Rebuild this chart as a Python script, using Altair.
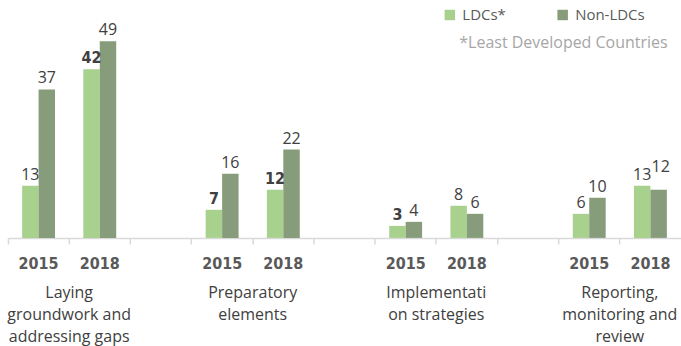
import altair as alt
import pandas as pd

# Chart data
categories = [
    "Laying\ngroundwork and\naddressing gaps",
    "Preparatory\nelements",
    "Implementati\non strategies",
    "Reporting,\nmonitoring and\nreview",
]
years = ["2015", "2018"]
series = ["LDCs*", "Non-LDCs"]
ldc_values = [13, 42, 7, 12, 3, 8, 6, 13]
non_ldc_values = [37, 49, 16, 22, 4, 6, 10, 12]
footnote = "*Least Developed Countries"

# Slot order along the x axis: two years per category, an empty slot between categories
slot_domain = []
for ci in range(len(categories)):
    for y in years:
        slot_domain.append(f"c{ci}-{y}")
    if ci < len(categories) - 1:
        slot_domain.append(f"gap{ci}")

rows = []
for ci in range(len(categories)):
    for yi, y in enumerate(years):
        k = ci * len(years) + yi
        rows.append({"slot": f"c{ci}-{y}", "series": series[0], "value": ldc_values[k], "key": f"L{k}"})
        rows.append({"slot": f"c{ci}-{y}", "series": series[1], "value": non_ldc_values[k], "key": f"N{k}"})
bars_df = pd.DataFrame(rows)

year_df = pd.DataFrame(
    [{"slot": f"c{ci}-{y}", "year": y} for ci in range(len(categories)) for y in years]
)
cat_df = pd.DataFrame(
    [{"slot": f"c{ci}-{years[1]}", "label": c} for ci, c in enumerate(categories)]
)
note_df = pd.DataFrame({"note": [footnote]})

BODY = "Open Sans"
NARROW = "'DejaVu Sans Condensed', Roboto, sans-serif"
bar_colors = ["#A9D18E", "#879C7B"]

x_scale = alt.Scale(domain=slot_domain, paddingInner=0, paddingOuter=0)
x_enc = alt.X(
    "slot:N",
    scale=x_scale,
    sort=slot_domain,
    axis=alt.Axis(
        title=None,
        labels=False,
        bandPosition=0,
        domainColor="#d9d9d9",
        domainWidth=1.5,
        tickColor="#d9d9d9",
        tickWidth=1.5,
        tickSize=6,
        grid=False,
    ),
)
xoff = alt.XOffset(
    "series:N",
    scale=alt.Scale(domain=series, paddingInner=0, paddingOuter=0.86),
)
y_enc = alt.Y("value:Q", scale=alt.Scale(domain=[0, 50]), axis=None)

bars = alt.Chart(bars_df).mark_bar().encode(
    x=x_enc,
    xOffset=xoff,
    y=y_enc,
    color=alt.Color(
        "series:N",
        scale=alt.Scale(domain=series, range=bar_colors),
        legend=alt.Legend(
            title=None,
            orient="none",
            legendX=435,
            legendY=-30,
            direction="horizontal",
            symbolType="square",
            symbolSize=110,
            symbolStrokeWidth=0,
            labelFont=BODY,
            labelFontSize=15,
            labelColor="#595959",
            labelOffset=5,
            columnPadding=49,
        ),
    ),
)

# Value labels; a few LDC labels use the condensed bold face, and one is lifted clear of its neighbour
bold_keys = ["L1", "L2", "L3", "L4"]
bold_test = "indexof(" + str(bold_keys) + ", datum.key) >= 0"

labels_base = alt.Chart(bars_df).encode(
    x=alt.X("slot:N", scale=x_scale, sort=slot_domain),
    xOffset=xoff,
    y=y_enc,
    text="value:Q",
)
labels_regular = labels_base.mark_text(
    baseline="bottom", dy=-3, font=BODY, fontSize=16, color="#404040"
).transform_filter(f"!({bold_test}) && datum.key != 'N7'")
labels_bold = labels_base.mark_text(
    baseline="bottom", dy=-3, font=NARROW, fontSize=16, fontWeight="bold", color="#404040"
).transform_filter(bold_test)
labels_lifted = labels_base.mark_text(
    baseline="bottom", dy=-15, dx=2, font=BODY, fontSize=16, color="#404040"
).transform_filter("datum.key == 'N7'")

year_labels = alt.Chart(year_df).mark_text(
    baseline="middle", font=NARROW, fontSize=16, fontWeight="bold", color="#595959"
).encode(
    x=alt.X("slot:N", scale=x_scale, sort=slot_domain),
    y=alt.value(227),
    text="year:N",
)

cat_labels = alt.Chart(cat_df).mark_text(
    baseline="top", font=BODY, fontSize=16, lineHeight=22, lineBreak="\n", color="#404040"
).encode(
    x=alt.X("slot:N", scale=x_scale, sort=slot_domain, bandPosition=0),
    y=alt.value(248),
    text="label:N",
)

note = alt.Chart(note_df).mark_text(
    align="left", baseline="middle", font=BODY, fontSize=16, color="#a6a6a6"
).encode(x=alt.value(452), y=alt.value(6), text="note:N")

chart = (
    alt.layer(bars, labels_regular, labels_bold, labels_lifted, year_labels, cat_labels, note)
    .properties(
        width=674,
        height=201,
        autosize=alt.AutoSizeParams(type="none"),
        padding={"left": 8, "top": 37, "right": 0, "bottom": 108},
        background="white",
    )
    .configure_view(stroke=None)
)

chart.save("out.html", embed_options={"renderer": "svg", "actions": False})
